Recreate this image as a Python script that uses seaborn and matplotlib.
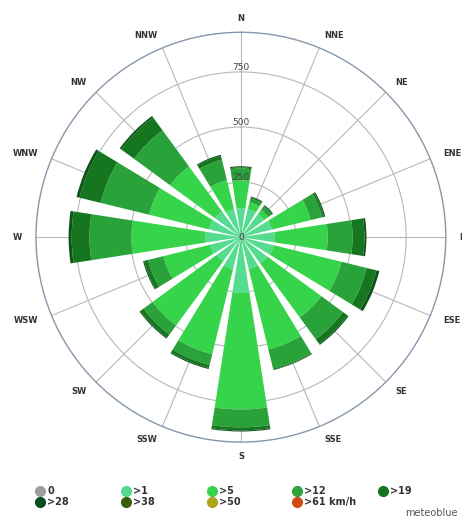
import numpy as np
import matplotlib.pyplot as plt
import seaborn as sns
from matplotlib.lines import Line2D

directions = ["N", "NNE", "NE", "ENE", "E", "ESE", "SE", "SSE",
              "S", "SSW", "SW", "WSW", "W", "WNW", "NW", "NNW"]

# hours per speed class (km/h), one value per direction
speed_1 = [131, 131, 131, 145, 154, 154, 149, 149, 253, 149, 136, 145, 163, 149, 145, 131]
speed_5 = [127, 32, 23, 181, 240, 316, 303, 375, 529, 398, 362, 217, 334, 280, 253, 136]
speed_12 = [54, 18, 18, 54, 113, 118, 122, 90, 81, 50, 50, 72, 190, 226, 203, 95]
speed_19 = [5, 7, 7, 9, 54, 45, 27, 5, 14, 14, 18, 18, 81, 99, 72, 18]
speed_28 = [5, 2, 2, 5, 9, 14, 5, 2, 5, 5, 5, 5, 14, 14, 9, 5]

classes = ["0", ">1", ">5", ">12", ">19", ">28", ">38", ">50", ">61 km/h"]
class_colors = ["#a09ea0", "#55d98c", "#38d44c", "#2ea43a", "#15741f",
                "#0b4d1e", "#3b5e0d", "#b0a21a", "#cf4d12"]
bar_colors = ["#55dc90", "#36d44a", "#2aa23a", "#16761f", "#0c5418"]

ring_values = [250, 500, 750]

sns.set_style("white")
plt.rcParams["font.family"] = ["DejaVu Sans"]

fig = plt.figure(figsize=(4.62, 5.19), dpi=100)
ax = fig.add_axes([0.0779, 0.148, 0.887, 0.790], projection="polar")
ax.set_theta_zero_location("N")
ax.set_theta_direction(-1)

theta = np.deg2rad(np.arange(len(directions)) * 22.5)
width = np.deg2rad(17.5)

bottom = np.zeros(len(directions))
for vals, col in zip([speed_1, speed_5, speed_12, speed_19, speed_28], bar_colors):
    vals = np.array(vals)
    ax.bar(theta, vals, width=width, bottom=bottom, color=col, edgecolor="none", zorder=2)
    bottom += vals

rmax = 930
ax.set_ylim(0, rmax)
ax.set_yticks(ring_values)
ax.set_yticklabels([])
ax.set_xticks(theta)
ax.set_xticklabels([])
ax.grid(True, color="#b8b8b8", linewidth=0.8)
ax.set_axisbelow(True)
ax.spines["polar"].set_color("#8797ab")
ax.spines["polar"].set_linewidth(1.0)

# direction labels, aligned away from the circle like the original
for t, name in zip(theta, directions):
    s = np.sin(t)
    ha = "center" if abs(s) < 0.01 else ("left" if s > 0 else "right")
    ax.text(t, rmax * 1.068, name, ha=ha, va="center", fontsize=6,
            fontweight="bold", color="#333333", clip_on=False)

for r in ring_values:
    ax.text(0, r, str(r), ha="center", va="bottom", fontsize=6.5, color="#444444", zorder=5)
ax.text(0, 0, "0", ha="center", va="center", fontsize=6.5, color="#444444", zorder=5)

# legend: five columns, filled row by row
col_x = [0.066, 0.252, 0.438, 0.622, 0.808]
for i, x in enumerate(col_x):
    idx = [i, i + 5] if i + 5 < len(classes) else [i]
    handles = [Line2D([], [], marker="o", linestyle="none", markersize=7,
                      color=class_colors[k]) for k in idx]
    leg = fig.legend(handles, [classes[k] for k in idx], loc="upper left",
                     bbox_to_anchor=(x, 0.072), frameon=False, handletextpad=0.2,
                     labelspacing=0.05, borderpad=0, handlelength=1.0,
                     prop={"size": 7, "weight": "bold"})
    for t in leg.get_texts():
        t.set_color("#333333")

fig.text(0.99, 0.002, "meteoblue", ha="right", va="bottom", fontsize=7, color="#555555")

fig.savefig("out.png", dpi=100)
